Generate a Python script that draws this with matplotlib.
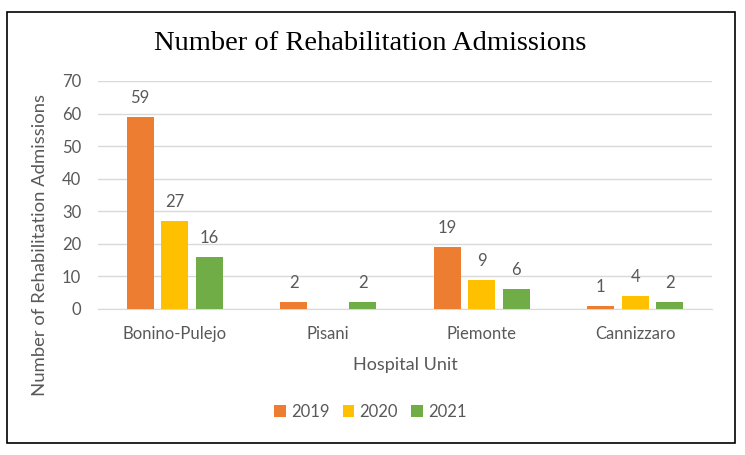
import numpy as np
import matplotlib.pyplot as plt
from matplotlib.patches import Rectangle

units = ['Bonino-Pulejo', 'Pisani', 'Piemonte', 'Cannizzaro']
years = ['2019', '2020', '2021']
v2019 = [59, 2, 19, 1]
v2020 = [27, 0, 9, 4]
v2021 = [16, 2, 6, 2]
colors = ['#ED7D31', '#FFC000', '#70AD47']

txt = '#595959'
plt.rcParams['font.family'] = ['Lato', 'DejaVu Sans']

fig = plt.figure(figsize=(7.45, 4.55), dpi=100)
ax = fig.add_axes([0.1315, 0.321, 0.824, 0.501])

x = np.arange(len(units))
width = 0.176
step = 0.225
for i, (vals, yr) in enumerate(zip([v2019, v2020, v2021], years)):
    pos = x + (i - 1) * step
    ax.bar(pos, vals, width, color=colors[i], label=yr, zorder=3)
    for p, v in zip(pos, vals):
        if v == 0:
            continue
        ax.annotate(str(v), (p, v), xytext=(0, 8), textcoords='offset points',
                    ha='center', va='bottom', fontsize=12, color=txt)

ax.set_ylim(0, 70)
ax.set_yticks(np.arange(0, 71, 10))
ax.set_xlim(-0.5, 3.5)
ax.set_xticks(x)
ax.set_xticklabels(units)
ax.tick_params(axis='both', length=0, labelsize=12, colors=txt)
ax.tick_params(axis='x', pad=12)
ax.tick_params(axis='y', pad=12)
ax.grid(axis='y', color='#D9D9D9', linewidth=1, zorder=0)
for s in ['top', 'right', 'left']:
    ax.spines[s].set_visible(False)
ax.spines['bottom'].set_color('#D9D9D9')

ax.set_xlabel('Hospital Unit', fontsize=13, color=txt, labelpad=11)
ax.set_ylabel('Number of Rehabilitation Admissions', fontsize=13.3, color=txt)
ax.yaxis.set_label_coords(-0.081, 0.28)

fig.text(0.497, 0.905, 'Number of Rehabilitation Admissions', ha='center', va='center',
         fontsize=20.5, family='Liberation Serif', color='black')

ax.legend(loc='center', bbox_to_anchor=(0.497, 0.095), bbox_transform=fig.transFigure,
          ncol=3, frameon=False, fontsize=12, handlelength=0.7, handleheight=0.7,
          handletextpad=0.3, columnspacing=0.8, labelcolor=txt)

fig.patches.append(Rectangle((0.0094, 0.026), 0.977, 0.947, transform=fig.transFigure,
                             fill=False, edgecolor='black', linewidth=1.2))

plt.savefig('out.png', dpi=100)
